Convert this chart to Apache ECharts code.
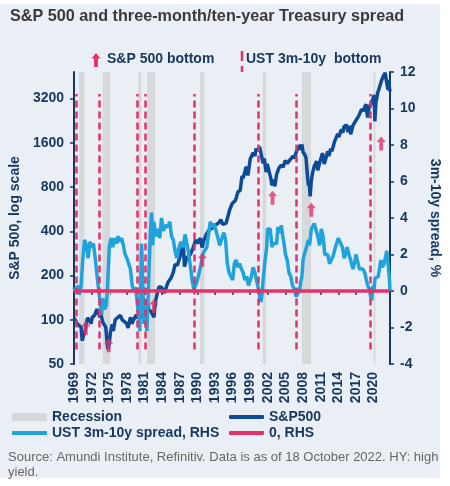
<!DOCTYPE html>
<html><head><meta charset="utf-8">
<script src="https://cdn.jsdelivr.net/npm/echarts@6/dist/echarts.min.js"></script>
<style>html,body{margin:0;padding:0;background:#fff}#c{width:450px;height:486px}</style>
</head><body><div id="c"></div>
<script>
// ---------- data ----------
const spxYears = [1969.0,1969.3,1969.6,1969.9,1970.2,1970.4,1970.6,1970.9,1971.1,1971.3,1971.6,1971.9,1972.1,1972.5,1972.9,1973.1,1973.4,1973.6,1973.9,1974.1,1974.4,1974.6,1974.75,1974.95,1975.2,1975.5,1975.7,1976.0,1976.5,1976.9,1977.2,1977.5,1977.9,1978.2,1978.6,1978.85,1979.2,1979.6,1979.8,1980.1,1980.25,1980.5,1980.9,1981.2,1981.5,1981.7,1982.1,1982.6,1982.9,1983.3,1983.5,1983.9,1984.4,1984.7,1985.0,1985.5,1985.9,1986.2,1986.6,1987.0,1987.6,1987.8,1988.2,1988.8,1989.3,1989.7,1990.0,1990.5,1990.8,1991.1,1991.5,1992.0,1992.5,1993.0,1993.6,1994.0,1994.3,1994.9,1995.5,1995.9,1996.5,1996.9,1997.3,1997.6,1997.8,1998.3,1998.6,1998.7,1999.0,1999.5,1999.8,2000.0,2000.2,2000.6,2000.9,2001.2,2001.4,2001.7,2001.9,2002.2,2002.5,2002.7,2002.9,2003.2,2003.5,2003.9,2004.3,2004.6,2004.95,2005.3,2005.8,2006.3,2006.5,2006.9,2007.2,2007.5,2007.6,2007.8,2008.0,2008.3,2008.5,2008.8,2008.9,2009.0,2009.2,2009.4,2009.6,2009.9,2010.3,2010.5,2010.9,2011.3,2011.6,2011.8,2012.2,2012.4,2012.7,2012.9,2013.4,2013.9,2014.1,2014.5,2014.8,2014.95,2015.4,2015.65,2015.9,2016.1,2016.5,2016.9,2017.5,2017.95,2018.1,2018.3,2018.7,2018.98,2019.3,2019.4,2019.6,2019.98,2020.12,2020.22,2020.4,2020.7,2020.95,2021.3,2021.6,2021.99,2022.2,2022.45,2022.6,2022.75,2022.8];
const spxValues = [103,102,93,92,89,72,78,84,96,103,99,94,104,107,118,113,104,108,96,96,89,72,63,67,82,93,84,100,104,107,100,100,95,88,104,94,101,108,102,114,102,121,136,132,130,117,114,104,135,160,168,166,152,166,180,192,210,238,235,265,330,230,265,278,310,350,330,360,310,345,380,410,420,440,455,480,445,455,560,615,650,740,760,950,920,1100,960,1020,1240,1370,1300,1460,1410,1500,1320,1160,1250,1010,1150,1150,920,820,900,810,980,1080,1130,1090,1210,1160,1230,1300,1250,1410,1420,1540,1430,1560,1380,1330,1260,900,820,900,690,880,990,1110,1200,1040,1200,1360,1150,1220,1400,1300,1460,1400,1650,1840,1750,1970,1880,2060,2120,1890,2090,1830,2100,2240,2450,2700,2620,2640,2930,2380,2900,2780,3000,3240,3380,2240,3000,3500,3750,4180,4500,4790,4200,3670,4280,3580,3700];

const spreadYears = [1969.0,1969.3,1969.6,1969.9,1970.2,1970.5,1970.8,1971.1,1971.4,1971.7,1972.0,1972.3,1972.6,1972.9,1973.1,1973.4,1973.7,1973.9,1974.2,1974.5,1974.7,1975.0,1975.3,1975.6,1975.9,1976.2,1976.5,1976.8,1977.1,1977.4,1977.7,1978.0,1978.3,1978.6,1978.9,1979.2,1979.5,1979.8,1980.0,1980.2,1980.35,1980.5,1980.7,1980.9,1981.1,1981.4,1981.6,1981.8,1982.0,1982.2,1982.4,1982.6,1982.9,1983.2,1983.6,1983.9,1984.2,1984.6,1985.0,1985.3,1985.6,1985.9,1986.2,1986.5,1986.8,1987.2,1987.6,1987.9,1988.2,1988.5,1988.8,1989.1,1989.4,1989.7,1990.0,1990.3,1990.6,1990.9,1991.2,1991.6,1991.9,1992.2,1992.5,1992.8,1993.1,1993.5,1993.8,1994.1,1994.5,1994.8,1995.1,1995.4,1995.7,1996.0,1996.3,1996.6,1996.9,1997.2,1997.5,1997.8,1998.1,1998.4,1998.7,1998.9,1999.2,1999.5,1999.8,2000.1,2000.4,2000.6,2000.8,2001.0,2001.2,2001.5,2001.8,2001.95,2002.2,2002.4,2002.7,2002.9,2003.2,2003.5,2003.7,2004.0,2004.3,2004.5,2004.8,2005.0,2005.3,2005.6,2005.9,2006.2,2006.5,2006.8,2007.1,2007.4,2007.6,2007.8,2008.0,2008.2,2008.4,2008.7,2008.9,2009.1,2009.4,2009.7,2009.9,2010.2,2010.5,2010.8,2011.1,2011.4,2011.7,2011.9,2012.2,2012.5,2012.8,2013.1,2013.5,2013.8,2014.0,2014.4,2014.7,2015.0,2015.3,2015.5,2015.8,2016.1,2016.5,2016.8,2017.0,2017.3,2017.6,2017.9,2018.2,2018.5,2018.8,2019.0,2019.3,2019.5,2019.7,2019.9,2020.1,2020.25,2020.5,2020.8,2021.1,2021.25,2021.5,2021.8,2022.0,2022.25,2022.4,2022.55,2022.7,2022.8];
const spreadValues = [0.2,-0.1,0.3,-0.2,0.3,1.8,2.8,2.5,1.8,2.7,2.4,2.6,1.8,0.9,0.3,-0.5,-1.3,-0.4,-1.0,-0.8,0.2,2.4,2.9,2.4,2.9,2.6,3.0,2.7,2.9,2.5,2.0,1.8,1.9,1.2,0.3,0.0,0.2,-0.8,-1.2,-2.2,0.5,2.6,0.6,-1.8,-0.8,-2.2,-0.5,1.5,3.2,4.3,2.5,3.8,3.0,3.4,2.9,4.0,3.3,3.6,3.5,3.8,3.0,2.8,2.2,1.8,2.3,2.7,2.4,3.1,2.6,2.1,1.4,0.6,0.1,0.3,0.6,1.0,1.4,2.0,2.2,2.4,3.1,3.8,3.5,3.7,3.4,2.9,2.5,2.8,3.2,2.8,1.5,1.0,0.9,0.6,1.5,1.7,1.3,1.5,1.2,1.0,0.6,0.8,0.3,0.4,0.8,1.3,1.0,0.9,0.1,-0.3,-0.6,-0.2,0.6,1.6,2.4,3.4,3.3,3.4,2.4,2.6,2.7,2.6,3.5,3.2,3.6,3.1,2.5,2.0,1.7,1.0,0.8,0.3,0.1,-0.3,-0.4,0.0,0.5,0.8,1.7,2.0,2.2,2.1,2.8,2.5,3.4,3.3,3.7,3.6,3.0,2.5,3.4,3.0,2.0,1.9,2.0,1.5,1.6,1.9,2.4,2.7,2.9,2.6,2.4,1.8,2.1,2.4,2.0,1.7,1.2,1.6,2.0,1.6,1.2,1.3,1.2,1.0,1.1,0.3,0.1,-0.3,-0.5,0.3,0.1,0.7,0.6,0.8,1.4,1.7,1.3,1.5,1.6,2.2,1.8,1.2,0.7,0.0];

const zeroYears = [1969, 2022.8];
const zeroValues = [0, 0];

const recessionStart = [1969.85, 1973.85, 1979.95, 1981.45, 1990.45, 2001.1, 2007.8, 2020.0];
const recessionEnd   = [1970.75, 1975.15, 1980.45, 1982.8, 1991.2, 2001.75, 2009.35, 2020.3];

const ustBottomYears = [1969.33, 1973.3, 1979.8, 1981.1, 1989.5, 2000.3, 2006.9, 2019.5];
const ustBottomLow = -3.2, ustBottomHigh = 10.8;

const spxBottomYears = [1971.0, 1974.9, 1982.6, 1990.85, 2002.8, 2009.4, 2021.3];
const spxBottomLevels = [88, 67, 124, 256, 677, 561, 1580];

const leftTicks = [50, 100, 200, 400, 800, 1600, 3200];

// ---------- chart ----------
const NAVY = '#17375e';
const RED = '#e5306a';
const DARK = '#0e4b97';
const LIGHT = '#1fa3dd';
const FONT = 'Liberation Sans';
const ARROW = 'M4.5,0L9,5.5L6.4,5.5L6.4,14L2.6,14L2.6,5.5L0,5.5Z';

const pair = (xs, ys) => xs.map((x, i) => [x, ys[i]]);
const legendText = {fontFamily: FONT, fontWeight: 'bold', fontSize: 14, color: NAVY};

const chart = echarts.init(document.getElementById('c'));
chart.setOption({
  backgroundColor: '#ffffff',
  animation: false,
  title: {text: 'S&P 500 and three-month/ten-year Treasury spread', left: 10, top: 9, padding: 0,
    textStyle: {fontFamily: FONT, fontWeight: 'bold', fontSize: 16.2, color: '#3a3a3a'}},
  grid: {left: 68, right: 57, top: 72, bottom: 122},
  xAxis: {
    type: 'value', min: 1969, max: 2022.8, interval: 3,
    axisLine: {lineStyle: {color: NAVY, width: 2}},
    axisTick: {length: 4, lineStyle: {color: NAVY, width: 1.5}},
    splitLine: {show: false},
    axisLabel: {rotate: 90, margin: 8, fontFamily: FONT, fontWeight: 'bold', fontSize: 14, color: NAVY,
      formatter: v => Number.isInteger(v) ? String(v) : ''}
  },
  yAxis: [
    {type: 'log', logBase: 2, min: 50, max: 4850, position: 'left',
     name: 'S&P 500, log scale', nameLocation: 'middle', nameGap: 50,
     nameTextStyle: {fontFamily: FONT, fontWeight: 'bold', fontSize: 14, color: NAVY},
     axisLine: {show: true, lineStyle: {color: NAVY, width: 2}},
     axisTick: {show: true, length: 4, customValues: leftTicks, lineStyle: {color: NAVY, width: 1.5}},
     axisLabel: {customValues: leftTicks, margin: 10, fontFamily: FONT, fontWeight: 'bold', fontSize: 14, color: NAVY,
       formatter: v => String(Math.round(v))},
     splitLine: {show: false}},
    {type: 'value', min: -4, max: 12, interval: 2, position: 'right',
     name: '3m-10y spread, %', nameLocation: 'middle', nameGap: 38, nameRotate: -90,
     nameTextStyle: {fontFamily: FONT, fontWeight: 'bold', fontSize: 14, color: NAVY},
     axisLine: {show: true, lineStyle: {color: NAVY, width: 2}},
     axisTick: {show: true, length: 4, lineStyle: {color: NAVY, width: 1.5}},
     axisLabel: {margin: 10, fontFamily: FONT, fontWeight: 'bold', fontSize: 14, color: NAVY},
     splitLine: {show: false}}
  ],
  legend: [
    {data: ['Recession'], left: 12, top: 410, padding: 0, itemWidth: 35, itemHeight: 8, icon: 'rect', selectedMode: false, textStyle: legendText},
    {data: ['S&P500'], left: 229, top: 410, padding: 0, itemWidth: 35, itemHeight: 4, icon: 'roundRect', selectedMode: false, textStyle: legendText},
    {data: ['UST 3m-10y spread, RHS'], left: 12, top: 426, padding: 0, itemWidth: 35, itemHeight: 4, icon: 'roundRect', selectedMode: false, textStyle: legendText},
    {data: ['0, RHS'], left: 229, top: 426, padding: 0, itemWidth: 35, itemHeight: 4, icon: 'roundRect', selectedMode: false, textStyle: legendText}
  ],
  graphic: [
    {type: 'rect', shape: {x: 0, y: 4, width: 440, height: 474}, style: {fill: '#e9eff4'}, z: -100, silent: true},
    {type: 'polygon', shape: {points: [[96,53],[100.5,58.5],[97.9,58.5],[97.9,67],[94.1,67],[94.1,58.5],[91.5,58.5]]}, style: {fill: RED}, silent: true},
    {type: 'text', x: 107, y: 52, style: {text: 'S&P 500 bottom', font: 'bold 14px ' + FONT, fill: NAVY}, silent: true},
    {type: 'line', shape: {x1: 242, y1: 51, x2: 242, y2: 72}, style: {stroke: RED, lineWidth: 2.5, lineDash: [10, 5]}, silent: true},
    {type: 'text', x: 246, y: 52, style: {text: 'UST 3m-10y  bottom', font: 'bold 14px ' + FONT, fill: NAVY}, silent: true},
    {type: 'text', x: 8, y: 450, style: {text: 'Source: Amundi Institute, Refinitiv. Data is as of 18 October 2022. HY: high\nyield.', font: '13px ' + FONT, fill: '#666666', lineHeight: 15}, silent: true}
  ],
  series: [
    {name: 'Recession', type: 'line', yAxisIndex: 1, data: [], color: '#d6d9dc', symbol: 'none',
     markArea: {silent: true, itemStyle: {color: '#d6d9dc'},
       data: recessionStart.map((s, i) => [{xAxis: s}, {xAxis: recessionEnd[i]}])}},
    {name: 'S&P500', type: 'line', yAxisIndex: 0, data: pair(spxYears, spxValues), color: DARK,
     symbol: 'none', lineStyle: {width: 3.5, color: DARK}, z: 3, emphasis: {disabled: true}},
    {name: 'UST 3m-10y spread, RHS', type: 'line', yAxisIndex: 1, data: pair(spreadYears, spreadValues), color: LIGHT,
     symbol: 'none', lineStyle: {width: 3.5, color: LIGHT}, z: 4, emphasis: {disabled: true}},
    {name: '0, RHS', type: 'line', yAxisIndex: 1, data: pair(zeroYears, zeroValues), color: RED,
     symbol: 'none', lineStyle: {width: 3.5, color: RED}, z: 5, emphasis: {disabled: true},
     markLine: {silent: true, symbol: ['none', 'none'], label: {show: false},
       lineStyle: {color: RED, width: 2.5, type: [7, 4]},
       data: ustBottomYears.map(y => [{coord: [y, ustBottomLow]}, {coord: [y, ustBottomHigh]}])}},
    {name: 'S&P 500 bottom', type: 'scatter', yAxisIndex: 0, data: pair(spxBottomYears, spxBottomLevels),
     symbol: 'path://' + ARROW, symbolSize: [9, 14], itemStyle: {color: RED}, z: 6, emphasis: {disabled: true}}
  ]
});
</script>
</body></html>
